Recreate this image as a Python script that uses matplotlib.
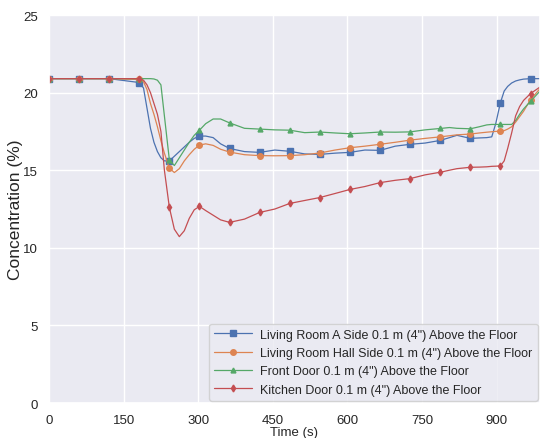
import numpy as np
import matplotlib
matplotlib.use("Agg")
import matplotlib.pyplot as plt
import seaborn as sns

sns.set_theme(style="darkgrid")
plt.rcParams['font.family'] = ['Liberation Sans', 'DejaVu Sans']

# time (s)
time = [0, 60.5, 121, 181.5, 190, 197, 204, 211, 218, 225, 232, 242, 252, 262, 272,
        282, 292, 302.5, 315, 330, 345, 363, 393, 423.5, 454, 484, 514, 544.5, 575,
        605, 635, 665.5, 696, 726, 756, 786.5, 805, 820, 847, 865, 880, 890, 898,
        907.5, 915, 922, 930, 938, 946, 954, 968, 987]
marker_times = [0, 60.5, 121, 181.5, 242, 302.5, 363, 423.5, 484, 544.5, 605,
                665.5, 726, 786.5, 847, 907.5, 968]

living_a = [20.9, 20.9, 20.9, 20.65, 20.3, 19.0, 17.7, 16.8, 16.2, 15.8, 15.6, 15.6,
            15.9, 16.2, 16.5, 16.8, 17.05, 17.2, 17.2, 17.1, 16.7, 16.4, 16.2, 16.15,
            16.3, 16.22, 16.05, 16.02, 16.1, 16.15, 16.3, 16.28, 16.55, 16.67, 16.75,
            16.92, 17.1, 17.25, 17.05, 17.08, 17.1, 17.15, 18.0, 19.36, 20.1, 20.4,
            20.62, 20.75, 20.82, 20.87, 20.9, 20.9]
living_hall = [20.9, 20.9, 20.9, 20.85, 20.7, 20.2, 19.3, 18.6, 17.8, 16.9, 16.1,
               15.13, 14.85, 15.1, 15.6, 16.0, 16.35, 16.62, 16.7, 16.6, 16.35, 16.17,
               16.0, 15.94, 15.93, 15.94, 16.0, 16.11, 16.3, 16.45, 16.55, 16.67, 16.8,
               16.94, 17.05, 17.15, 17.22, 17.28, 17.33, 17.4, 17.45, 17.48, 17.5,
               17.52, 17.55, 17.65, 17.8, 18.1, 18.45, 18.8, 19.55, 20.26]
front_door = [20.9, 20.9, 20.9, 20.9, 20.9, 20.9, 20.9, 20.88, 20.8, 20.5, 18.5,
              15.66, 15.3, 15.8, 16.3, 16.8, 17.25, 17.58, 18.0, 18.3, 18.3, 18.05,
              17.7, 17.65, 17.6, 17.58, 17.42, 17.46, 17.4, 17.35, 17.4, 17.46, 17.45,
              17.47, 17.6, 17.69, 17.75, 17.7, 17.67, 17.8, 17.92, 17.95, 17.95, 17.95,
              17.95, 17.95, 17.95, 18.2, 18.6, 18.95, 19.44, 20.1]
kitchen_door = [20.9, 20.9, 20.9, 20.9, 20.8, 20.5, 20.0, 19.3, 18.6, 17.5, 15.0,
                12.6, 11.2, 10.72, 11.1, 11.9, 12.45, 12.67, 12.4, 12.1, 11.8, 11.64,
                11.85, 12.28, 12.5, 12.86, 13.05, 13.24, 13.5, 13.76, 13.95, 14.2,
                14.35, 14.46, 14.7, 14.87, 15.0, 15.1, 15.19, 15.2, 15.22, 15.25,
                15.26, 15.28, 15.6, 16.4, 17.4, 18.5, 19.1, 19.5, 19.94, 20.36]

labels = ['Living Room A Side 0.1 m (4") Above the Floor',
          'Living Room Hall Side 0.1 m (4") Above the Floor',
          'Front Door 0.1 m (4") Above the Floor',
          'Kitchen Door 0.1 m (4") Above the Floor']

mark_idx = [time.index(t) for t in marker_times]

fig = plt.figure(figsize=(5.4, 4.39), dpi=100)
ax = fig.add_axes([0.0907, 0.0797, 0.9093, 0.8838])

series = [living_a, living_hall, front_door, kitchen_door]
markers = ['s', 'o', '^', 'd']
sizes = [4, 4, 3.5, 3.5]
colors = ['#4C72B0', '#DD8452', '#55A868', '#C44E52']
for y, m, ms, c, lab in zip(series, markers, sizes, colors, labels):
    ax.plot(time, y, color=c, marker=m, markersize=ms, lw=0.9,
            markevery=mark_idx, label=lab)

ax.set_xlim(0, 987)
ax.set_ylim(0, 25)
ax.set_xticks(np.arange(0, 901, 150))
ax.set_yticks(np.arange(0, 26, 5))
ax.tick_params(labelsize=9.5, pad=2)
ax.set_xlabel('Time (s)', fontsize=9.5, labelpad=0)
ax.set_ylabel('Concentration (%)', fontsize=12.5, labelpad=0)
ax.legend(loc='lower right', fontsize=9, handlelength=3, borderpad=0.4,
          labelspacing=0.5, borderaxespad=0.2, handletextpad=0.7)

fig.savefig('out.png', dpi=100)
